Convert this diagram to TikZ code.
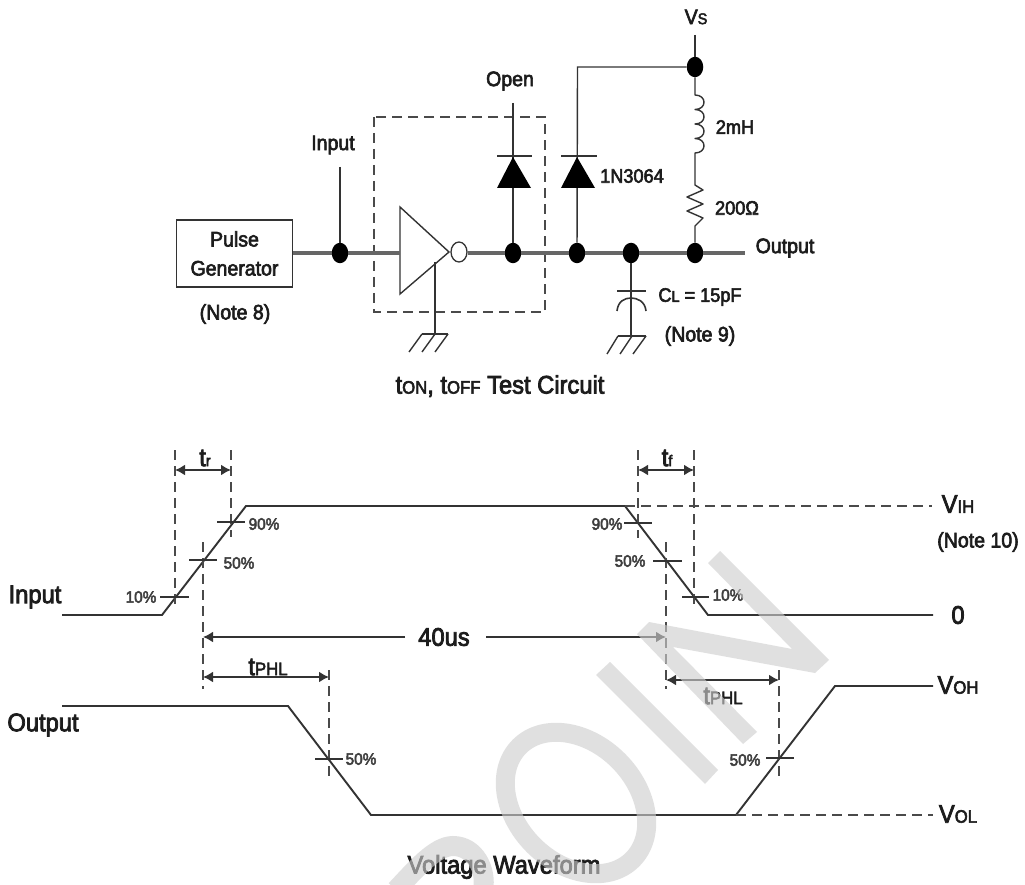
\documentclass[tikz,border=0pt]{standalone}
\usepackage{fontspec}
\setmainfont{Liberation Sans}[FakeBold=3,FakeStretch=0.93]
\usetikzlibrary{arrows.meta,shapes.geometric}
\definecolor{ink}{HTML}{1C1C1C}
\definecolor{wire}{HTML}{333333}
\definecolor{dashc}{HTML}{4A4A4A}
\definecolor{wmark}{HTML}{CECECE}
\newcommand{\sm}[1]{{\fontsize{15.5}{17}\selectfont #1}}
\newcommand{\smb}[1]{{\fontsize{18}{20}\selectfont #1}}
\tikzset{
  x=1pt,y=-1pt,
  txt/.style={inner sep=0pt,text=ink,font=\fontsize{21}{24}\selectfont,align=center},
  txts/.style={inner sep=0pt,text=ink,font=\fontsize{19.5}{22}\selectfont,align=center},
  big/.style={inner sep=0pt,text=ink,font=\fontsize{25.5}{28}\selectfont,align=center},
  pct/.style={inner sep=0pt,text=ink!85,font=\fontsize{16.5}{18}\selectfont},
  dotn/.style={ellipse,fill=black,draw=none,minimum width=16.5pt,minimum height=20.5pt,inner sep=0pt},
  thin wire/.style={draw=wire,line width=1.4pt},
  bus/.style={draw=wire!75,line width=3.6pt},
  wave/.style={draw=wire,line width=1.9pt,line join=miter},
  guide/.style={draw=dashc,line width=1.7pt,dash pattern=on 10pt off 6pt},
  tick/.style={draw=wire,line width=1.2pt},
  dim/.style={draw=wire,line width=1.9pt,{Latex[length=10pt,width=11pt]}-{Latex[length=10pt,width=11pt]}},
  dimr/.style={draw=wire,line width=1.9pt,-{Latex[length=10pt,width=11pt]}},
  diodetri/.style={fill=black,draw=none},
  wm/.style={fill=wmark,draw=none,opacity=0.62},
}
\begin{document}
\begin{tikzpicture}
\useasboundingbox[fill=white] (0,0) rectangle (1025,885);

%% ---------- circuit ----------
\node[draw=wire,line width=1.4pt,minimum width=116pt,minimum height=67pt,inner sep=0pt,text=ink,font=\fontsize{21}{29}\selectfont,align=center] (gen) at (234.5,253.5) {Pulse\\Generator};
\node[txt] (note8) at (235,314) {(Note 8)};
\node[dotn] (dIn) at (340,253) {};
\coordinate (inTop) at (340,167);
\node[txt] (lblIn) at (333,145) {Input};
\draw[thin wire] (inTop) -- (dIn);

\coordinate (boxA) at (374,117);
\coordinate (boxB) at (545,312);
\draw[guide] (boxA) rectangle (boxB);

\coordinate (invA) at (400,207);
\coordinate (invB) at (400,294);
\coordinate (invC) at (449,252);
\draw[thin wire,line join=miter] (invA) -- (invC) -- (invB) -- cycle;
\node[ellipse,draw=wire,line width=1.3pt,minimum width=16pt,minimum height=20pt,inner sep=0pt,fill=white] (bub) at (459,252) {};
\node[dotn] (d1) at (513,253) {};
\node[dotn] (d2) at (577,253) {};
\node[dotn] (d3) at (631,253) {};
\node[dotn] (d4) at (695,253) {};
\coordinate (outEnd) at (745,253);
\draw[bus] (gen.east |- dIn) -- (dIn) -- (400,253);
\draw[bus] (bub.east |- d1) -- (d1) -- (d2) -- (d3) -- (d4) -- (outEnd);
\node[txt] (lblOut) at (785,248) {Output};

% inverter ground
\coordinate (g1) at (435,262);
\coordinate (g1b) at (435,334);
\draw[thin wire] (g1) -- (g1b);
\draw[thin wire] (422,334) -- (448,334);
\draw[thin wire] (422,334) -- (409,352) (435,334) -- (422,352) (448,334) -- (435,352);

% open diode
\coordinate (opTop) at (513,103);
\draw[thin wire] (opTop) -- (d1);
\draw[thin wire] (497,156) -- (532,156);
\fill[diodetri] (513,157) -- (531,188) -- (497,188) -- cycle;
\node[txt] (lblOpen) at (510,81) {Open};

% 1N3064
\node[dotn] (dVs) at (695,67) {};
\coordinate (corner) at (577.5,67);
\draw[thin wire] (d2) -- (corner) -- (dVs);
\draw[thin wire] (561,156) -- (597,156);
\fill[diodetri] (577,157) -- (595,188) -- (561,188) -- cycle;
\node[txts] (lblD) at (632,176) {1N3064};

% Vs, inductor, resistor
\coordinate (vsTop) at (695,35);
\draw[thin wire] (vsTop) -- (dVs);
\node[txt] (lblVs) at (696,17) {V\sm{S}};
\draw[thin wire,line join=round] (dVs) -- (695,95)
  .. controls (707,95) and (707,109.5) .. (695,109.5)
  .. controls (707,109.5) and (707,124) .. (695,124)
  .. controls (707,124) and (707,138.5) .. (695,138.5)
  .. controls (707,138.5) and (707,153) .. (695,153)
  -- (695,185) -- (703,190) -- (687,197) -- (703,204) -- (687,211) -- (703,218) -- (695,226) -- (d4);
\node[txts] (lblL) at (735,127) {2mH};
\node[txts] (lblR) at (737,208) {200Ω};

% capacitor
\coordinate (capG) at (631,336);
\draw[thin wire] (d3) -- (capG);
\draw[thin wire,line width=1.6pt] (617,291) -- (646,291);
\draw[thin wire,line width=1.6pt] (617,311) .. controls (618,301) and (625,298) .. (631,298) .. controls (637,298) and (645,301) .. (646,311);
\draw[thin wire] (618,336) -- (646,336);
\draw[thin wire] (618,336) -- (607,354) (632,336) -- (620,354) (646,336) -- (633,354);
\node[txts] (lblC) at (700,297) {C\sm{L} = 15pF};
\node[txt] (note9) at (700,336) {(Note 9)};
\node[big] (cap1) at (500,386) {t\smb{ON}, t\smb{OFF} Test Circuit};

%% ---------- waveforms ----------
\coordinate (i0) at (62,615);
\coordinate (i1) at (162,615);
\coordinate (i2) at (246,506);
\coordinate (i3) at (625,506);
\coordinate (i4) at (708,615);
\coordinate (i5) at (933,615);
\draw[wave] (i0) -- (i1) -- (i2) -- (i3) -- (i4) -- (i5);
\coordinate (vihEnd) at (932,506);
\draw[guide] (i3) -- (vihEnd);

\coordinate (o0) at (62,706);
\coordinate (o1) at (288,706);
\coordinate (o2) at (371,815);
\coordinate (o3) at (736,815);
\coordinate (o4) at (835,686);
\coordinate (o5) at (933,686);
\coordinate (volEnd) at (933,815);
\draw[wave] (o0) -- (o1) -- (o2) -- (o3) -- (o4) -- (o5);
\draw[guide] (o3) -- (volEnd);

% vertical guides
\coordinate (a1) at (175,450); \coordinate (a2) at (175,610);
\coordinate (b1) at (231,450); \coordinate (b2) at (231,537);
\coordinate (c1) at (203,542); \coordinate (c2) at (203,689);
\coordinate (e1) at (638,450); \coordinate (e2) at (638,538);
\coordinate (f1) at (694,450); \coordinate (f2) at (694,608);
\coordinate (h1) at (666,542); \coordinate (h2) at (666,689);
\coordinate (j1) at (329,670); \coordinate (j2) at (329,780);
\coordinate (k1) at (779,670); \coordinate (k2) at (779,780);
\foreach \p/\q in {a1/a2,b1/b2,c1/c2,e1/e2,f1/f2,h1/h2,j1/j2,k1/k2}
  \draw[guide] (\p) -- (\q);

% ticks
\draw[tick] (217,522) -- (245,522);
\draw[tick] (189,560) -- (217,560);
\draw[tick] (160,597) -- (189,597);
\draw[tick] (624,523) -- (652,523);
\draw[tick] (653,561) -- (682,561);
\draw[tick] (682,597) -- (709,597);
\draw[tick] (315,759) -- (343,759);
\draw[tick] (766,758) -- (794,758);

% percentages
\node[pct] (p1) at (264,524) {90\%};
\node[pct] (p2) at (239,563) {50\%};
\node[pct] (p3) at (141,597) {10\%};
\node[pct] (p4) at (607,524) {90\%};
\node[pct] (p5) at (630,561) {50\%};
\node[pct] (p6) at (728,595) {10\%};
\node[pct] (p7) at (361,759) {50\%};
\node[pct] (p8) at (745,760) {50\%};

% dimension arrows
\coordinate (trL) at (175,470); \coordinate (trR) at (231,470);
\draw[dim] (trL) -- (trR);
\node[big] (ltr) at (205,458) {t\sm{r}};
\coordinate (tfL) at (638,470); \coordinate (tfR) at (694,470);
\draw[dim] (tfL) -- (tfR);
\node[big] (ltf) at (667,458) {t\sm{f}};

\node[big] (l40) at (444,637) {40us};
\coordinate (fL) at (203,637); \coordinate (fR) at (666,637);
\draw[dimr] (405,637) -- (fL);
\draw[dimr] (486,637) -- (fR);

\coordinate (pL) at (203,677); \coordinate (pR) at (329,677);
\draw[dim] (pL) -- (pR);
\node[big,fill=white,inner xsep=1pt,inner ysep=0pt] (lp1) at (268,667) {t\smb{PHL}};
\coordinate (qL) at (666,680); \coordinate (qR) at (779,680);
\draw[dim] (qL) -- (qR);
\node[big] (lp2) at (723,696) {t\smb{PHL}};

% labels
\node[big] (lI) at (35,597) {Input};
\node[big] (lO) at (43,725) {Output};
\node[big] (vih) at (958,504) {V\smb{IH}};
\node[txt] (n10) at (978,542) {(Note 10)};
\node[big] (zero) at (958,615) {0};
\node[big] (voh) at (958,685) {V\smb{OH}};
\node[big] (vol) at (958,814) {V\smb{OL}};
\node[big] (cap2) at (504,867) {Voltage Waveform};

%% ---------- watermark ----------
\begin{scope}
\clip (0,0) rectangle (1025,885);
\fill[wm] (720,551) -- (829,660) -- (815,673) -- (673,647) -- (757,732) -- (743,744) -- (637,634) -- (649,622) -- (792,649) -- (708,563) -- cycle;
\fill[wm] (610,662) -- (718,770) -- (705,784) -- (596,675) -- cycle;
\draw[draw=wmark,opacity=0.62,line width=19pt] (576,803) ellipse[x radius=80,y radius=60,rotate=-45];
\draw[draw=wmark,opacity=0.62,line width=20pt] (396,890) .. controls (415,870) and (435,846) .. (453,846) .. controls (475,846) and (487,870) .. (483,890);
\end{scope}
\end{tikzpicture}
\end{document}
